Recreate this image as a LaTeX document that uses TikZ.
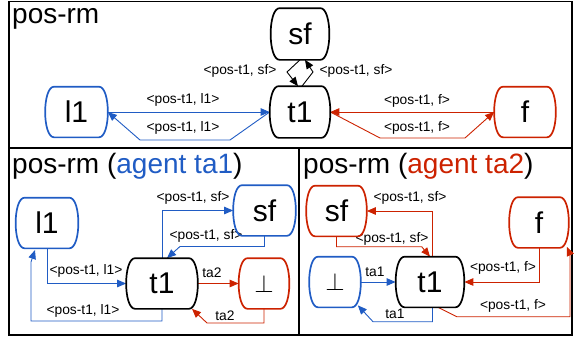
\documentclass[tikz,border=0pt]{standalone}
\usepackage{fontspec}
\setmainfont{Liberation Sans}
\usetikzlibrary{arrows.meta}
\definecolor{cblue}{RGB}{32,92,196}
\definecolor{cred}{RGB}{204,34,0}
\tikzset{
  box/.style={draw=none, outer sep=0.85pt, inner sep=0pt, font=\fontsize{30}{30}\selectfont},
  nk/.style={box},
  nb/.style={box},
  nr/.style={box},
  barrelline/.style={line width=1.7pt},
  edge/.style={line width=0.9pt, -{Triangle[length=9pt,width=7.5pt]}},
  ek/.style={edge, draw=black},
  eb/.style={edge, draw=cblue},
  er/.style={edge, draw=cred},
  lab/.style={inner sep=0pt, font=\fontsize{13.8}{14}\selectfont},
  ttl/.style={inner sep=0pt, anchor=base west, font=\fontsize{28}{28}\selectfont},
  frame/.style={line width=1.8pt},
}
\newcommand\drawbarrel[2]{%
  \draw[barrelline, draw=#2] ([xshift=9pt]#1.north west) -- ([xshift=-9pt]#1.north east)
    .. controls ([xshift=3pt]#1.north east) and ([xshift=3pt]#1.south east) .. ([xshift=-9pt]#1.south east)
    -- ([xshift=9pt]#1.south west)
    .. controls ([xshift=-3pt]#1.south west) and ([xshift=-3pt]#1.north west) .. cycle;}
\begin{document}
\begin{tikzpicture}[x=1pt,y=-1pt]
\useasboundingbox (0,0) rectangle (574,338);
\draw[frame] (9,1.5) rectangle (572,335);
\draw[frame] (9,148) -- (572,148);
\draw[frame] (299,148) -- (299,335);
% titles
\node[ttl] (T0) at (12,23) {pos-rm};
\node[ttl] (T1) at (12,173) {pos-rm (\textcolor{cblue}{agent ta1})};
\node[ttl] (T2) at (303,173) {pos-rm (\textcolor{cred}{agent ta2})};
% ---------- top panel
\node[nb, minimum width=61pt, minimum height=49pt] (Tl1) at (76.5,112) {l1};
\node[nk, minimum width=57pt, minimum height=50pt] (Tsf) at (300,34) {sf};
\node[nk, minimum width=59pt, minimum height=50pt] (Tt1) at (300,112) {t1};
\node[nr, minimum width=60pt, minimum height=49pt] (Tf) at (525,112) {f};
\draw[eb] (Tl1.east) -- (Tt1.west);
\draw[eb] (Tt1.west) -- (230,140) -- (140,140) -- (Tl1.east);
\node[lab] (La) at (183,100) {<pos-t1, l1>};
\node[lab] (Lb) at (183,128) {<pos-t1, l1>};
\draw[ek] (Tsf.south) -- (287,72) -- ([xshift=-2pt]Tt1.north);
\draw[ek] ([xshift=2pt]Tt1.north) -- (313,72) -- ([xshift=5pt]Tsf.south);
\node[lab] (Lc) at (240,71) {<pos-t1, sf>};
\node[lab] (Ld) at (356,71) {<pos-t1, sf>};
\draw[er] (Tf.west) -- (Tt1.east);
\draw[er] (Tt1.east) -- (380,138) -- (465,138) -- (Tf.west);
\node[lab] (Le) at (417,101) {<pos-t1, f>};
\node[lab] (Lf) at (417,128) {<pos-t1, f>};
% ---------- bottom left
\node[nb, minimum width=61pt, minimum height=49pt] (Al1) at (47,223) {l1};
\node[nb, minimum width=61pt, minimum height=49pt] (Asf) at (264.5,210.5) {sf};
\node[nk, minimum width=70pt, minimum height=49pt] (At1) at (162,283.5) {t1};
\node[nr, minimum width=49pt, minimum height=49pt] (Abot) at (264,283.5) {$\perp$};
\draw[eb] (Al1.south) |- (At1.west);
\node[lab] (Lg) at (86,271) {<pos-t1, l1>};
\draw[eb] (At1.south) |- (31,321) -- (31,262) -- (35,250);
\node[lab] (Lh) at (83,311) {<pos-t1, l1>};
\draw[eb] (At1.north) |- (Asf.west);
\node[lab] (Li) at (193,198) {<pos-t1, sf>};
\draw[eb] (Asf.south) |- (180,246.5) -- ([xshift=5pt]At1.north);
\node[lab] (Lj) at (206,236) {<pos-t1, sf>};
\draw[er] (At1.east) -- (Abot.west);
\node[lab] (Lk) at (212,273) {ta2};
\draw[er] (Abot.south) |- (207,323) -- ([xshift=30pt]At1.south);
\node[lab] (Ll) at (225,316) {ta2};
% ---------- bottom right
\node[nr, minimum width=59pt, minimum height=49pt] (Bsf) at (336.5,211) {sf};
\node[nb, minimum width=50pt, minimum height=49pt] (Bbot) at (335,282) {$\perp$};
\node[nk, minimum width=67pt, minimum height=49pt] (Bt1) at (430,282) {t1};
\node[nr, minimum width=58pt, minimum height=49pt] (Bf) at (539,222.5) {f};
\draw[er] ([xshift=2.5pt]Bt1.north) |- (Bsf.east);
\node[lab] (Lm) at (410,198) {<pos-t1, sf>};
\draw[er] (Bsf.south) |- (421.7,246.7) -- (Bt1.north);
\node[lab] (Ln) at (392,239) {<pos-t1, sf>};
\draw[eb] (Bbot.east) -- (Bt1.west);
\node[lab] (Lo) at (375,272) {ta1};
\draw[eb] ([xshift=2.5pt]Bt1.south) |- (373,321.7) -- ([shift={(-3pt,2pt)}]Bbot.south east);
\node[lab] (Lp) at (395,314) {ta1};
\draw[er] (Bf.south) |- (Bt1.east);
\node[lab] (Lq) at (503,268) {<pos-t1, f>};
\draw[er] ([xshift=8pt]Bt1.south) -- (456.7,316.7) -- (570,316.7) -- (570,254) -- ([xshift=-2pt,yshift=1pt]Bf.south east);
\node[lab] (Lr) at (513,306) {<pos-t1, f>};
% node outlines
\foreach \n/\c in {Tl1/cblue, Tsf/black, Tt1/black, Tf/cred,
                   Al1/cblue, Asf/cblue, At1/black, Abot/cred,
                   Bsf/cred, Bbot/cblue, Bt1/black, Bf/cred}
  {\drawbarrel{\n}{\c}}
\end{tikzpicture}
\end{document}
